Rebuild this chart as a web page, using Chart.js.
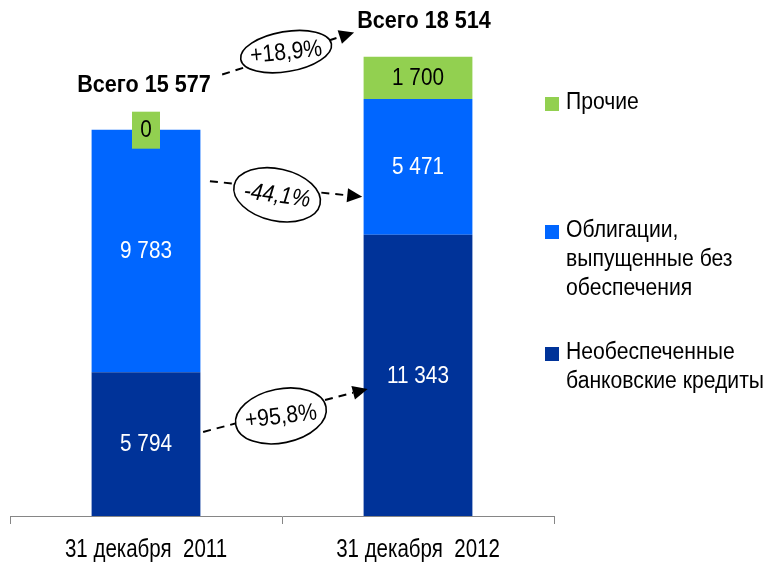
<!DOCTYPE html>
<html>
<head>
<meta charset="utf-8">
<script src="https://cdn.jsdelivr.net/npm/chart.js@4.4.2/dist/chart.umd.min.js"></script>
<style>
  html, body { margin: 0; padding: 0; background: #fff; }
</style>
</head>
<body>
<canvas id="chart-debt" width="771" height="565"></canvas>
<script>
// values
const dates = ['31 декабря  2011', '31 декабря  2012'];
const bankLoans = [5794, 11343];
const bonds = [9783, 5471];
const other = [0, 1700];
const totals = [15577, 18514];
const seriesNames = ['Необеспеченные банковские кредиты', 'Облигации, выпущенные без обеспечения', 'Прочие'];
const legendLines = [
    ['Необеспеченные', 'банковские кредиты'],
    ['Облигации,', 'выпущенные без', 'обеспечения'],
    ['Прочие']
];
const changes = ['+18,9%', '-44,1%', '+95,8%'];

const FONT = "'Liberation Sans', Arial, sans-serif";
const colors = ['#003399', '#0066ff', '#92d050'];
const labelColors = ['#ffffff', '#ffffff', '#000000'];

Chart.defaults.font.family = FONT;
Chart.defaults.color = '#000';

function fmt(v) {
    return String(v).replace(/\B(?=(\d{3})+(?!\d))/g, ' ');
}

// the reference uses a narrow face, so squeeze the text horizontally
function narrowText(ctx, text, x, y, font, sx) {
    ctx.save();
    ctx.font = font;
    ctx.translate(x, y);
    ctx.scale(sx, 1);
    ctx.fillText(text, 0, 0);
    ctx.restore();
}

// change arrows: t = fraction between the two bar centres, y in data units
const arrows = [
    { text: changes[0], from: [0.28, 17800], to: [0.765, 19500], at: [0.515, 18725], rx: 46, ry: 20, rot: -0.17, italic: false },
    { text: changes[1], from: [0.235, 13500], to: [0.795, 12870], at: [0.482, 12950], rx: 44, ry: 26, rot: 0.22, italic: true },
    { text: changes[2], from: [0.21, 3390], to: [0.815, 5125], at: [0.496, 4035], rx: 46, ry: 27, rot: -0.2, italic: false }
];

const segmentLabels = {
    id: 'segmentLabels',
    afterDatasetsDraw(chart) {
        const ctx = chart.ctx;
        ctx.save();
        ctx.textAlign = 'center';
        ctx.textBaseline = 'middle';
        const f = `23px ${FONT}`;
        chart.data.datasets.forEach((ds, i) => {
            chart.getDatasetMeta(i).data.forEach((el, j) => {
                const v = ds.data[j];
                if (v === 0) {
                    ctx.fillStyle = colors[i];
                    ctx.fillRect(el.x - 14, el.y - 18, 28, 37);
                    ctx.fillStyle = '#000';
                    narrowText(ctx, '0', el.x, el.y + 1, f, 0.9);
                    return;
                }
                ctx.fillStyle = labelColors[i];
                narrowText(ctx, fmt(v), el.x, (el.y + el.base) / 2 + 1, f, 0.9);
            });
        });
        // totals above the bars
        const top = chart.getDatasetMeta(2).data;
        const lift = [44, 35];
        ctx.fillStyle = '#000';
        top.forEach((el, j) => {
            narrowText(ctx, 'Всего ' + fmt(totals[j]), el.x - 2 + j * 8,
                chart.scales.y.getPixelForValue(totals[j]) - lift[j], `bold 24px ${FONT}`, 0.9);
        });
        // category labels under the axis
        const xs = chart.scales.x;
        chart.data.labels.forEach((lab, i) => {
            narrowText(ctx, lab, xs.getPixelForTick(i), 550, `25px ${FONT}`, 0.82);
        });
        ctx.restore();
    }
};

const changeArrows = {
    id: 'changeArrows',
    afterDatasetsDraw(chart) {
        const ctx = chart.ctx;
        const bars = chart.getDatasetMeta(0).data;
        const x0 = bars[0].x, x1 = bars[1].x;
        const y = chart.scales.y;
        const pt = p => [x0 + p[0] * (x1 - x0), y.getPixelForValue(p[1])];
        ctx.save();
        arrows.forEach(a => {
            const [sx, sy] = pt(a.from);
            const [ex, ey] = pt(a.to);
            const [cx, cy] = pt(a.at);
            const ang = Math.atan2(ey - sy, ex - sx);
            const head = 15;
            const lx = ex - Math.cos(ang) * head, ly = ey - Math.sin(ang) * head;
            ctx.strokeStyle = '#000';
            ctx.lineWidth = 2;
            ctx.setLineDash([8, 6]);
            ctx.beginPath();
            ctx.moveTo(sx, sy);
            ctx.lineTo(lx, ly);
            ctx.stroke();
            ctx.setLineDash([]);
            // arrow head
            ctx.fillStyle = '#000';
            ctx.beginPath();
            ctx.moveTo(ex, ey);
            ctx.lineTo(lx + Math.sin(ang) * 7, ly - Math.cos(ang) * 7);
            ctx.lineTo(lx - Math.sin(ang) * 7, ly + Math.cos(ang) * 7);
            ctx.closePath();
            ctx.fill();
            // ellipse with the change
            ctx.fillStyle = '#fff';
            ctx.lineWidth = 1.6;
            ctx.beginPath();
            ctx.ellipse(cx, cy, a.rx, a.ry, a.rot, 0, Math.PI * 2);
            ctx.fill();
            ctx.stroke();
            ctx.save();
            ctx.translate(cx, cy);
            ctx.rotate(a.rot * 0.6);
            ctx.fillStyle = '#000';
            ctx.textAlign = 'center';
            ctx.textBaseline = 'middle';
            narrowText(ctx, a.text, 0, 1, `${a.italic ? 'italic ' : ''}24px ${FONT}`, 0.88);
            ctx.restore();
        });
        ctx.restore();
    }
};

const sideLegend = {
    id: 'sideLegend',
    afterDraw(chart) {
        const ctx = chart.ctx;
        const rows = [103, 231, 353];
        ctx.save();
        ctx.textBaseline = 'middle';
        ctx.textAlign = 'left';
        [2, 1, 0].forEach((i, k) => {
            const y0 = rows[k];
            ctx.fillStyle = colors[i];
            ctx.fillRect(545, y0 - 6, 14, 14);
            ctx.fillStyle = '#000';
            legendLines[i].forEach((line, n) => narrowText(ctx, line, 566, y0 + n * 29, `23px ${FONT}`, 0.92));
        });
        ctx.restore();
    }
};

new Chart(document.getElementById('chart-debt'), {
    type: 'bar',
    data: {
        labels: dates,
        datasets: [
            { label: seriesNames[0], data: bankLoans, backgroundColor: colors[0] },
            { label: seriesNames[1], data: bonds, backgroundColor: colors[1] },
            { label: seriesNames[2], data: other, backgroundColor: colors[2] }
        ]
    },
    options: {
        responsive: false,
        animation: false,
        layout: { padding: { left: 10, right: 217, top: 20, bottom: 41 } },
        datasets: { bar: { categoryPercentage: 1, barPercentage: 0.4, borderWidth: 0 } },
        plugins: {
            legend: { display: false },
            tooltip: { enabled: false }
        },
        scales: {
            x: {
                stacked: true,
                grid: { offset: true, drawOnChartArea: false, tickLength: 8, color: '#868686' },
                border: { color: '#868686' },
                ticks: { display: false }
            },
            y: { stacked: true, display: false, min: 0, max: 20000 }
        }
    },
    plugins: [segmentLabels, changeArrows, sideLegend]
});
</script>
</body>
</html>
